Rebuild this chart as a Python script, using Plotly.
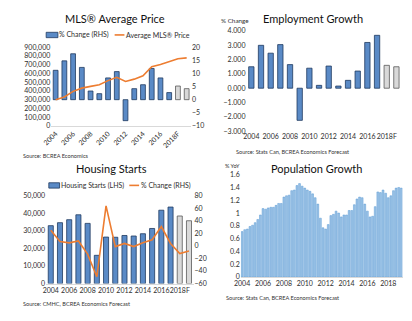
import plotly.graph_objects as go

# ---------------- data ----------------
years = ['2004', '2005', '2006', '2007', '2008', '2009', '2010', '2011', '2012',
         '2013', '2014', '2015', '2016', '2017', '2018F', '2019F']
year_ticks = ['2004', '2006', '2008', '2010', '2012', '2014', '2016', '2018F']

mls_pct_change = [11.2, 14.8, 17.5, 12.3, 3.3, 2.3, 8.3, 10.7, -8.0, 4.2, 5.7,
                  11.9, 8.3, 2.7, 5.2, 4.2]
mls_avg_price = [300000, 331000, 395000, 432000, 452000, 470000, 518000, 556000,
                 509000, 535000, 573000, 677000, 703000, 733000, 768000, 778000]

employment_growth = [1.50, 3.00, 2.45, 3.05, 1.65, -2.25, 1.40, 0.20, 1.55, 0.15,
                     0.55, 1.20, 3.20, 3.70, 1.60, 1.50]

housing_starts = [33000, 34700, 36400, 39200, 34300, 16100, 26500, 26400, 27400,
                  27100, 28400, 31400, 41800, 43600, 38500, 35800]
housing_pct_change = [25, 7, 5, 8, -13, -49, 64, -1, 4, -1, 5, 10, 31, 4, -12, -8]

pop_growth = [0.71, 0.74, 0.75, 0.79, 0.81, 0.85, 0.90, 0.97, 1.07, 1.06, 1.08,
              1.09, 1.09, 1.12, 1.15, 1.15, 1.25, 1.27, 1.28, 1.35, 1.36, 1.43,
              1.46, 1.42, 1.39, 1.36, 1.34, 1.30, 1.24, 1.14, 0.92, 0.77, 0.75,
              0.82, 0.96, 0.98, 1.03, 1.00, 0.94, 0.97, 0.97, 1.04, 1.04, 1.13,
              1.22, 1.25, 1.24, 1.14, 1.03, 0.94, 0.95, 1.10, 1.33, 1.32, 1.36,
              1.31, 1.24, 1.27, 1.35, 1.39, 1.40, 1.39]
pop_tick_labels = ['2004', '2006', '2008', '2010', '2012', '2014', '2016', '2018']

# ---------------- styles ----------------
FONT = 'Lato, Open Sans, sans-serif'
BLUE = '#5A8AC6'
BLUE_EDGE = '#1F3A5F'
GRAY = '#D9D9D9'
GRAY_EDGE = '#595959'
ORANGE = '#ED7D31'
TICK_COL = '#2E2E2E'

n_actual = 14
bar_colors = [BLUE] * n_actual + [GRAY] * (len(years) - n_actual)
bar_edges = [BLUE_EDGE] * n_actual + [GRAY_EDGE] * (len(years) - n_actual)

W, H = 412, 321
def px_x(x):
    return x / W
def px_y(y):
    return (H - y) / H

fig = go.Figure()

# Panel 1: MLS average price (bars on RHS axis y, line on LHS axis y2)
fig.add_trace(go.Bar(x=years, y=mls_pct_change, name='% Change (RHS)',
                     marker=dict(color=bar_colors, line=dict(color=bar_edges, width=0.8)),
                     width=0.55, xaxis='x', yaxis='y', showlegend=False))
fig.add_trace(go.Scatter(x=years, y=mls_avg_price, name='Average MLS® Price',
                         mode='lines', line=dict(color=ORANGE, width=1.6),
                         xaxis='x', yaxis='y2', showlegend=False))

# Panel 2: Employment growth
fig.add_trace(go.Bar(x=years, y=employment_growth, showlegend=False,
                     marker=dict(color=bar_colors, line=dict(color=bar_edges, width=0.8)),
                     width=0.55, xaxis='x2', yaxis='y3'))

# Panel 3: Housing starts (bars LHS y4, line RHS y5)
fig.add_trace(go.Bar(x=years, y=housing_starts, name='Housing Starts (LHS)',
                     marker=dict(color=bar_colors, line=dict(color=bar_edges, width=0.8)),
                     width=0.55, xaxis='x3', yaxis='y4', showlegend=False))
fig.add_trace(go.Scatter(x=years, y=housing_pct_change, name='% Change (RHS)',
                         mode='lines', line=dict(color=ORANGE, width=1.6),
                         xaxis='x3', yaxis='y5', showlegend=False))

# Panel 4: Population growth
pop_x = list(range(len(pop_growth)))
fig.add_trace(go.Bar(x=pop_x, y=pop_growth, showlegend=False,
                     marker=dict(color='#9DC3E6', line=dict(color='#5B9BD5', width=0.5)),
                     width=0.7, xaxis='x4', yaxis='y6'))

TICK_SIZE = 7
tickfont = dict(family=FONT, size=TICK_SIZE, color=TICK_COL)
axis_common = dict(showgrid=False, zeroline=False, ticks='', tickfont=tickfont)

fig.update_layout(
    width=W, height=H, margin=dict(l=0, r=0, t=0, b=0),
    paper_bgcolor='white', plot_bgcolor='white',
    font=dict(family=FONT, color='#222222'),
    showlegend=False,
    # Panel 1
    xaxis=dict(domain=[px_x(43.2), px_x(186.1)], anchor='y', type='category',
               tickmode='array', tickvals=year_ticks, ticktext=year_ticks,
               tickangle=-45, showline=True, linecolor='#D9D9D9', **axis_common),
    yaxis=dict(domain=[px_y(124), px_y(43.3)], range=[-10, 20], dtick=5, side='right',
               anchor='x', **axis_common),
    yaxis2=dict(domain=[px_y(124), px_y(43.3)], range=[0, 900000], dtick=100000,
                tickformat=',', side='left', overlaying='y', anchor='x', **axis_common),
    # Panel 2
    xaxis2=dict(domain=[px_x(242.8), px_x(401)], anchor='y3', type='category',
                tickmode='array', tickvals=year_ticks, ticktext=year_ticks,
                tickangle=0, showline=False, **axis_common),
    yaxis3=dict(domain=[px_y(129.3), px_y(26.7)], range=[-3, 4], dtick=1,
                tickformat='.3f', anchor='x2', **axis_common),
    # Panel 3
    xaxis3=dict(domain=[px_x(38), px_x(188.7)], anchor='y4', type='category',
                tickmode='array', tickvals=year_ticks, ticktext=year_ticks,
                tickangle=0, showline=True, linecolor='#D9D9D9', **axis_common),
    yaxis4=dict(domain=[px_y(285.7), px_y(195.7)], range=[0, 50000], dtick=10000,
                tickformat=',', side='left', anchor='x3', **axis_common),
    yaxis5=dict(domain=[px_y(285.7), px_y(195.7)], range=[-60, 80], dtick=20,
                side='right', overlaying='y4', anchor='x3', **axis_common),
    # Panel 4
    xaxis4=dict(domain=[px_x(237), px_x(402.4)], anchor='y6', range=[-0.5, len(pop_growth) - 0.5],
                tickmode='array', tickvals=[8 * i for i in range(len(pop_tick_labels))],
                ticktext=pop_tick_labels, tickangle=0, showline=True, linecolor='#D9D9D9',
                **axis_common),
    yaxis6=dict(domain=[px_y(279), px_y(174)], range=[0, 1.6], dtick=0.2,
                anchor='x4', **axis_common),
)

title_font = dict(family=FONT, size=11, color='#111111')
small_font = dict(family=FONT, size=5.6, color='#333333')
legend_font = dict(family=FONT, size=7, color=TICK_COL)
annotations = [
    dict(text='MLS® Average Price', x=px_x(108), y=px_y(14), font=title_font),
    dict(text='Employment Growth', x=px_x(311), y=px_y(14), font=title_font),
    dict(text='Housing Starts', x=px_x(105), y=px_y(168), font=title_font),
    dict(text='Population Growth', x=px_x(314), y=px_y(168), font=title_font),
    dict(text='% Change', x=px_x(231), y=px_y(15.5), font=dict(family=FONT, size=6.3, color=TICK_COL)),
    dict(text='% YoY', x=px_x(228), y=px_y(165.5), font=dict(family=FONT, size=5.5, color=TICK_COL)),
    dict(text='Source: BCREA Economics', x=px_x(13), y=px_y(154), xanchor='left', font=small_font),
    dict(text='Source: Stats Can, BCREA Economics Forecast', x=px_x(231), y=px_y(150.7),
         xanchor='left', font=small_font),
    dict(text='Source: CMHC, BCREA Economics Forecast', x=px_x(13), y=px_y(305.7),
         xanchor='left', font=small_font),
    dict(text='Source: Stats Can, BCREA Economics Forecast', x=px_x(221), y=px_y(300),
         xanchor='left', font=small_font),
    # legend texts (manual legends)
    dict(text='% Change (RHS)', x=px_x(50.5), y=px_y(30.7), xanchor='left', font=legend_font),
    dict(text='Average MLS® Price', x=px_x(118.5), y=px_y(30.7), xanchor='left', font=legend_font),
    dict(text='Housing Starts (LHS)', x=px_x(52), y=px_y(185), xanchor='left', font=legend_font),
    dict(text='% Change (RHS)', x=px_x(133.5), y=px_y(185), xanchor='left', font=legend_font),
]
for a in annotations:
    a.update(xref='paper', yref='paper', showarrow=False, yanchor='middle',
             xanchor=a.get('xanchor', 'center'), xshift=0, yshift=0)
    a['borderpad'] = 0

shapes = [
    dict(type='rect', x0=px_x(38), x1=px_x(50), y0=px_y(33.5), y1=px_y(28),
         fillcolor=BLUE, line=dict(color=BLUE_EDGE, width=0.8)),
    dict(type='line', x0=px_x(108), x1=px_x(118), y0=px_y(30.7), y1=px_y(30.7),
         line=dict(color=ORANGE, width=1.6)),
    dict(type='rect', x0=px_x(40.7), x1=px_x(51.7), y0=px_y(187.8), y1=px_y(182.3),
         fillcolor=BLUE, line=dict(color=BLUE_EDGE, width=0.8)),
    dict(type='line', x0=px_x(123), x1=px_x(133), y0=px_y(185), y1=px_y(185),
         line=dict(color=ORANGE, width=1.6)),
]
for s in shapes:
    s.update(xref='paper', yref='paper')

fig.update_layout(annotations=annotations, shapes=shapes)

fig.write_html('out.html')
